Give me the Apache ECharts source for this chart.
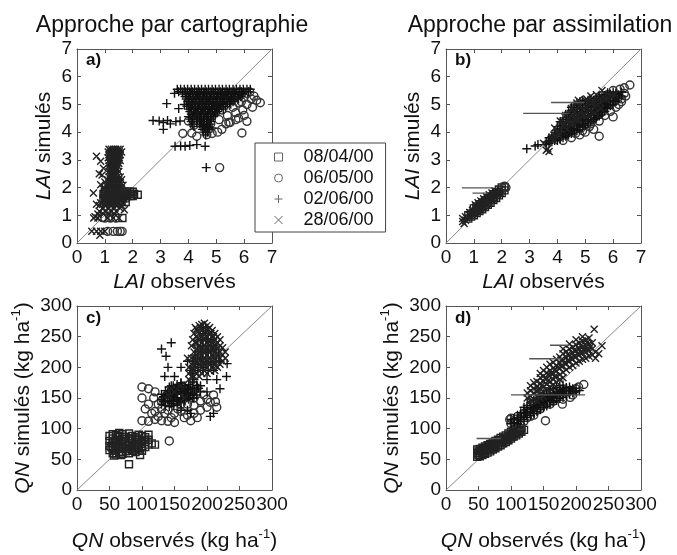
<!DOCTYPE html>
<html><head><meta charset="utf-8">
<script src="https://cdn.jsdelivr.net/npm/echarts@6/dist/echarts.min.js"></script>
<style>html,body{margin:0;padding:0;background:#fff}#c{width:677px;height:555px}</style>
</head><body><div id="c"></div>
<script>
// ---------------- DATA ----------------
const seriesNames = ['08/04/00', '06/05/00', '02/06/00', '28/06/00'];
const columnTitles = ['Approche par cartographie', 'Approche par assimilation'];
const panelLetters = ['a)', 'b)', 'c)', 'd)'];
const laiTicks = [0, 1, 2, 3, 4, 5, 6, 7];
const qnTicks = [0, 50, 100, 150, 200, 250, 300];

// Panel a) LAI, cartographie
const aSquares = [[1.0,1.85],[1.1,1.85],[1.2,1.85],[1.3,1.85],[1.4,1.85],[1.5,1.85],[1.6,1.85],[1.7,1.85],[1.8,1.85],[1.9,1.85],[2.0,1.85],
 [0.95,1.77],[1.05,1.77],[1.15,1.77],[1.25,1.77],[1.35,1.77],[1.45,1.77],[1.55,1.77],[1.65,1.77],[1.75,1.77],[1.85,1.77],[1.95,1.77],[2.05,1.77],[2.18,1.74],
 [1.0,1.69],[1.1,1.69],[1.2,1.69],[1.3,1.69],[1.4,1.69],[1.5,1.69],[1.6,1.69],[1.7,1.69],[1.8,1.69],[1.9,1.69],[2.0,1.69],
 [0.95,1.61],[1.05,1.61],[1.15,1.61],[1.25,1.61],[1.35,1.61],[1.45,1.61],[1.55,1.61],[1.65,1.61],[1.75,1.61],
 [1.0,1.53],[1.1,1.53],[1.2,1.53],[1.3,1.53],[1.4,1.53],[1.5,1.53],[1.6,1.53],[1.05,1.45],[1.2,1.45],[1.35,1.45],[1.5,1.45],[1.75,1.48],[1.63,0.9]];
const aCircles = [[3.8,3.95],[4.12,3.97],[4.3,3.85],[4.66,3.91],[4.85,3.95],[5.05,4.0],[5.2,4.1],[5.5,4.35],[5.92,3.97],[6.1,4.39],[6.0,4.6],[5.7,4.7],[6.1,5.0],[6.58,5.06],[6.35,5.3],[6.2,5.45],[6.0,5.25],[5.8,5.05],[5.6,4.9],[5.4,4.6],[5.3,5.2],[5.5,5.4],[5.1,4.45],[4.9,4.7],[4.6,4.3],[4.4,4.55],[4.2,4.25],[5.0,5.1],[5.85,5.45],[6.45,5.15],[5.95,4.8],[5.65,5.25],[5.12,2.72],[4.0,4.4],[4.7,5.0],[4.5,5.3],[6.3,4.9],[5.35,4.3],[5.8,4.5],[6.1,5.4],[5.2,4.8],[4.8,4.3],[5.45,4.35],[5.7,4.45],[6.25,5.2],[5.9,5.1],
 [1.1,0.42],[1.3,0.42],[1.45,0.42],[1.0,0.9],[1.2,0.9],[1.4,0.9],[0.9,0.92],[1.55,0.42],[1.62,0.42]];
const aPlus = [[3.22,5.03],[2.73,4.42],[2.95,4.4],[3.1,4.35],[3.25,4.42],[3.35,4.3],[3.55,4.38],[3.7,4.4],[3.1,4.1],[3.52,3.49],[3.72,3.5],[3.88,3.49],[4.05,3.52],[4.3,3.55],[4.6,3.49],[4.64,2.72],[3.5,5.4],[3.94,4.94],[3.65,4.85],[3.85,5.0],
 [3.6,5.55],[3.72,5.55],[3.85,5.55],[3.97,5.55],[4.1,5.55],[4.22,5.55],[4.35,5.55],[4.47,5.55],[4.6,5.55],[4.72,5.55],[4.85,5.55],[4.97,5.55],[5.1,5.55],[5.22,5.55],[5.35,5.55],[5.47,5.55],[5.6,5.55],[5.72,5.55],[5.85,5.55],[5.97,5.55],[6.1,5.55],[6.22,5.55],
 [3.65,5.46],[3.78,5.46],[3.9,5.46],[4.03,5.46],[4.15,5.46],[4.28,5.46],[4.4,5.46],[4.53,5.46],[4.65,5.46],[4.78,5.46],[4.9,5.46],[5.03,5.46],[5.15,5.46],[5.28,5.46],[5.4,5.46],[5.53,5.46],[5.65,5.46],[5.78,5.46],[5.9,5.46],[6.03,5.46],[6.15,5.46],
 [3.8,5.37],[3.95,5.37],[4.07,5.37],[4.2,5.37],[4.32,5.37],[4.45,5.37],[4.57,5.37],[4.7,5.37],[4.82,5.37],[4.95,5.37],[5.07,5.37],[5.2,5.37],[5.32,5.37],[5.45,5.37],[5.57,5.37],[5.7,5.37],[5.82,5.37],[5.95,5.37],
 [3.88,5.28],[4.0,5.28],[4.13,5.28],[4.25,5.28],[4.38,5.28],[4.5,5.28],[4.63,5.28],[4.75,5.28],[4.88,5.28],[5.0,5.28],[5.13,5.28],[5.25,5.28],[5.38,5.28],[5.5,5.28],[5.63,5.28],[5.75,5.28],[5.88,5.28],
 [3.92,5.19],[4.05,5.19],[4.17,5.19],[4.3,5.19],[4.42,5.19],[4.55,5.19],[4.67,5.19],[4.8,5.19],[4.92,5.19],[5.05,5.19],[5.17,5.19],[5.3,5.19],[5.42,5.19],[5.55,5.19],[5.67,5.19],[5.8,5.19],
 [3.98,5.1],[4.1,5.1],[4.23,5.1],[4.35,5.1],[4.48,5.1],[4.6,5.1],[4.73,5.1],[4.85,5.1],[4.98,5.1],[5.1,5.1],[5.23,5.1],[5.35,5.1],[5.48,5.1],[5.6,5.1],
 [4.02,5.01],[4.15,5.01],[4.27,5.01],[4.4,5.01],[4.52,5.01],[4.65,5.01],[4.77,5.01],[4.9,5.01],[5.02,5.01],[5.15,5.01],[5.27,5.01],[5.4,5.01],[5.52,5.01],
 [4.0,4.92],[4.08,4.92],[4.2,4.92],[4.33,4.92],[4.45,4.92],[4.58,4.92],[4.7,4.92],[4.83,4.92],[4.95,4.92],[5.08,4.92],[5.2,4.92],[5.33,4.92],
 [4.0,4.83],[4.12,4.83],[4.25,4.83],[4.37,4.83],[4.5,4.83],[4.62,4.83],[4.75,4.83],[4.87,4.83],[5.0,4.83],[5.12,4.83],[5.25,4.83],
 [4.05,4.74],[4.18,4.74],[4.3,4.74],[4.43,4.74],[4.55,4.74],[4.68,4.74],[4.8,4.74],[4.93,4.74],[5.05,4.74],
 [4.1,4.65],[4.22,4.65],[4.35,4.65],[4.47,4.65],[4.6,4.65],[4.72,4.65],[4.85,4.65],[4.97,4.65],
 [4.0,4.56],[4.15,4.56],[4.28,4.56],[4.4,4.56],[4.53,4.56],[4.65,4.56],[4.78,4.56],[4.9,4.56],
 [4.05,4.47],[4.2,4.47],[4.32,4.47],[4.45,4.47],[4.57,4.47],[4.7,4.47],[4.82,4.47],
 [4.1,4.38],[4.3,4.38],[4.43,4.38],[4.55,4.38],[4.68,4.38],[4.8,4.38],
 [4.15,4.29],[4.4,4.29],[4.52,4.29],[4.65,4.29],[4.77,4.29],[4.2,4.2],[4.45,4.2],[4.58,4.2],[4.7,4.2],[4.85,4.15],
 [4.5,4.1],[4.62,4.1],[4.75,4.1],[4.55,4.0],[4.68,4.0],[4.62,3.9]];
const aCross = [[1.15,3.38],[1.23,3.38],[1.31,3.38],[1.39,3.38],[1.47,3.38],[1.55,3.38],
 [1.12,3.28],[1.2,3.28],[1.28,3.28],[1.36,3.28],[1.44,3.28],[1.52,3.28],[1.6,3.28],
 [1.15,3.18],[1.23,3.18],[1.31,3.18],[1.39,3.18],[1.47,3.18],[1.55,3.18],
 [1.12,3.08],[1.2,3.08],[1.28,3.08],[1.36,3.08],[1.44,3.08],[1.52,3.08],
 [1.15,2.98],[1.23,2.98],[1.31,2.98],[1.39,2.98],[1.47,2.98],[1.55,2.98],
 [1.18,2.88],[1.26,2.88],[1.34,2.88],[1.42,2.88],[1.5,2.88],
 [1.15,2.78],[1.23,2.78],[1.31,2.78],[1.39,2.78],[1.47,2.78],
 [1.2,2.68],[1.28,2.68],[1.36,2.68],[1.44,2.68],
 [1.15,2.58],[1.23,2.58],[1.31,2.58],[1.39,2.58],[1.5,2.58],
 [1.2,2.48],[1.28,2.48],[1.36,2.48],[1.44,2.48],
 [1.15,2.38],[1.25,2.38],[1.35,2.38],[1.45,2.38],[1.55,2.38],
 [1.1,2.28],[1.2,2.28],[1.3,2.28],[1.4,2.28],[1.5,2.28],[1.6,2.28],
 [1.15,2.18],[1.25,2.18],[1.35,2.18],[1.45,2.18],[1.55,2.18],
 [1.05,2.08],[1.15,2.08],[1.25,2.08],[1.35,2.08],[1.45,2.08],[1.55,2.08],[1.65,2.08],
 [1.0,1.98],[1.1,1.98],[1.2,1.98],[1.3,1.98],[1.4,1.98],[1.5,1.98],[1.6,1.98],
 [0.85,1.45],[1.05,1.45],[1.25,1.45],[1.45,1.45],[1.65,1.45],
 [0.8,1.35],[1.0,1.35],[1.2,1.35],[1.4,1.35],[1.6,1.35],
 [0.95,1.25],[1.15,1.25],[1.35,1.25],[1.55,1.25],
 [0.8,1.15],[1.0,1.15],[1.2,1.15],[1.4,1.15],
 [0.75,1.05],[0.95,1.05],[1.15,1.05],[1.35,1.05],
 [0.7,3.13],[0.85,2.95],[0.8,2.5],[0.9,2.45],[0.95,2.7],[1.0,2.2],[0.85,2.1],[0.95,1.95],[0.59,1.8],[0.7,1.4],[0.65,0.95],
 [0.6,0.9],[0.75,0.9],[1.1,0.9],[1.3,0.9],[1.5,0.9],[0.53,0.42],[0.7,0.42],[0.85,0.42],[1.0,0.42],[0.82,0.28],[1.7,1.2]];

// Panel b) LAI, assimilation
const bSquares = [[0.8,0.88],[0.8,1.0],[0.9,0.95],[0.9,1.07],[1.0,1.0],[1.0,1.12],[1.0,1.25],[1.1,1.08],[1.1,1.2],[1.1,1.32],[1.2,1.15],[1.2,1.27],[1.2,1.4],[1.3,1.22],[1.3,1.34],[1.3,1.46],[1.4,1.3],[1.4,1.42],[1.4,1.54],[1.5,1.38],[1.5,1.5],[1.5,1.62],[1.6,1.45],[1.6,1.57],[1.6,1.68],[1.7,1.55],[1.7,1.66],[1.7,1.76],[1.8,1.62],[1.8,1.74],[1.8,1.84],[1.9,1.72],[1.9,1.83],[1.9,1.93],[2.0,1.8],[2.0,1.9],[2.0,2.0],[2.1,1.9],[2.1,2.02]];
const bCircles = [[4.2,3.7],[4.5,3.8],[4.8,3.9],[5.0,4.0],[5.3,4.1],[5.5,3.85],[5.2,4.3],[5.5,4.4],[5.7,4.6],[5.9,4.75],[6.0,4.55],[6.1,4.9],[6.2,5.0],[6.3,5.2],[6.1,5.3],[6.4,5.4],[6.6,5.7],[6.0,5.5],[5.8,5.35],[5.6,5.2],[5.4,5.0],[5.2,4.8],[5.0,4.6],[4.8,4.4],[4.6,4.2],[4.4,4.0],[5.85,5.0],[5.65,4.85],[5.45,4.65],[5.25,4.5],[5.05,4.3],[4.85,4.15],[4.65,3.95],[6.3,5.1],[6.25,5.55],[5.95,5.2],[5.75,5.05],[5.55,4.7],[5.35,4.55],[5.15,4.2],[4.9,4.05],[2.1,2.05],[2.15,2.0],[6.4,5.6],[6.45,5.3]];
const bPlus = [[2.9,3.4],[3.2,3.5],[3.3,3.55],[3.6,3.55],[3.6,3.65],[3.7,3.6],[3.7,3.7],[3.7,3.8],[3.8,3.65],[3.8,3.75],[3.8,3.85],[3.9,3.7],[3.9,3.8],[3.9,3.9],[3.9,4.0],
 [4.0,3.7],[4.0,3.82],[4.0,3.95],[4.0,4.08],[4.0,4.2],[4.1,3.75],[4.1,3.88],[4.1,4.0],[4.1,4.12],[4.1,4.25],[4.1,4.38],
 [4.2,3.8],[4.2,3.93],[4.2,4.06],[4.2,4.2],[4.2,4.33],[4.2,4.46],[4.3,3.85],[4.3,3.98],[4.3,4.1],[4.3,4.24],[4.3,4.38],[4.3,4.52],[4.3,4.65],
 [4.4,3.9],[4.4,4.03],[4.4,4.16],[4.4,4.3],[4.4,4.44],[4.4,4.58],[4.4,4.72],[4.5,3.95],[4.5,4.08],[4.5,4.22],[4.5,4.36],[4.5,4.5],[4.5,4.64],[4.5,4.78],[4.5,4.9],
 [4.6,4.0],[4.6,4.14],[4.6,4.28],[4.6,4.42],[4.6,4.56],[4.6,4.7],[4.6,4.84],[4.6,4.98],[4.7,4.05],[4.7,4.2],[4.7,4.34],[4.7,4.48],[4.7,4.62],[4.7,4.76],[4.7,4.9],[4.7,5.05],
 [4.8,4.1],[4.8,4.25],[4.8,4.4],[4.8,4.54],[4.8,4.68],[4.8,4.82],[4.8,4.96],[4.8,5.1],[4.9,4.18],[4.9,4.32],[4.9,4.46],[4.9,4.6],[4.9,4.74],[4.9,4.88],[4.9,5.02],[4.9,5.15],
 [5.0,4.25],[5.0,4.4],[5.0,4.54],[5.0,4.68],[5.0,4.82],[5.0,4.96],[5.0,5.1],[5.1,4.3],[5.1,4.45],[5.1,4.6],[5.1,4.74],[5.1,4.88],[5.1,5.02],[5.1,5.15],
 [5.2,4.38],[5.2,4.52],[5.2,4.66],[5.2,4.8],[5.2,4.94],[5.2,5.08],[5.2,5.2],[5.3,4.45],[5.3,4.6],[5.3,4.74],[5.3,4.88],[5.3,5.02],[5.3,5.15],
 [5.4,4.5],[5.4,4.65],[5.4,4.8],[5.4,4.94],[5.4,5.08],[5.4,5.22],[5.5,4.58],[5.5,4.72],[5.5,4.86],[5.5,5.0],[5.5,5.14],[5.5,5.28],
 [5.6,4.65],[5.6,4.8],[5.6,4.94],[5.6,5.08],[5.6,5.22],[5.6,5.35],[5.7,4.75],[5.7,4.9],[5.7,5.04],[5.7,5.18],[5.7,5.32],
 [5.8,4.85],[5.8,5.0],[5.8,5.14],[5.8,5.28],[5.8,5.42],[5.9,4.95],[5.9,5.1],[5.9,5.24],[5.9,5.38],[6.0,5.0],[6.0,5.15],[6.0,5.3],[6.0,5.45],[6.1,5.1],[6.1,5.25],[6.1,5.4],[6.2,5.2],[6.2,5.35],[6.3,5.3],[6.3,5.45]];
const bCross = [[0.6,0.78],[0.6,0.88],[0.65,0.7],[0.7,0.82],[0.7,0.95],[0.75,0.9],[0.85,1.0],[0.85,1.1],[0.95,1.05],[0.95,1.18],[1.05,1.12],[1.05,1.28],[1.05,1.38],[1.15,1.18],[1.15,1.3],[1.15,1.45],[1.25,1.25],[1.25,1.4],[1.25,1.52],[1.35,1.32],[1.35,1.46],[1.35,1.6],[1.45,1.4],[1.45,1.55],[1.45,1.68],[1.55,1.48],[1.55,1.62],[1.55,1.74],[1.65,1.56],[1.65,1.7],[1.65,1.8],[1.75,1.64],[1.75,1.78],[1.75,1.88],[1.85,1.72],[1.85,1.85],[1.95,1.8],[1.95,1.92],
 [3.6,3.35],[3.7,3.3],[3.65,3.4],[3.5,3.6],[3.8,3.8],[4.0,3.95],[4.2,4.25],[4.4,4.5],[4.6,4.7],[4.8,4.95],[5.0,5.15],[5.2,5.3],[4.3,4.6],[4.5,4.85],[4.7,5.05],[3.9,4.15],[4.1,4.4],[5.4,5.35],[5.6,5.5],[5.3,5.1],[4.75,5.15],[5.05,5.2],
 [4.15,4.1],[4.25,4.3],[4.35,4.45],[4.45,4.3],[4.55,4.6],[4.65,4.45],[4.75,4.6],[4.85,4.75],[4.95,4.65],[5.05,4.9],[5.15,4.8],[5.25,5.05],[5.35,4.9],[5.45,5.15],[5.55,5.05],[5.65,5.25],[5.75,5.2],[5.85,5.35],[5.95,5.3],[6.05,5.35],[4.05,3.9],[3.95,3.85],[3.85,3.7],[4.35,4.1],[4.55,4.3],[4.75,4.4],[4.95,4.6],[5.15,4.6],[5.35,4.7],[5.55,4.85]];
const bSegments = [[[3.77,5.07],[4.95,5.07]],[[2.77,4.68],[4.4,4.68]],[[0.57,1.99],[1.7,1.99]],[[0.95,1.8],[1.5,1.8]]];

// Panel c) QN, cartographie
const cSquares = [[50,65],[50,72],[50,80],[50,88],[55,60],[55,68],[55,76],[55,84],[55,91],[60,58],[60,66],[60,74],[60,82],[60,90],[65,62],[65,70],[65,78],[65,86],[65,93],[70,59],[70,67],[70,75],[70,83],[70,91],[75,63],[75,71],[75,79],[75,87],[80,60],[80,68],[80,76],[80,84],[80,92],[85,64],[85,72],[85,80],[85,88],[90,62],[90,70],[90,78],[90,86],[95,66],[95,74],[95,82],[95,90],[100,64],[100,72],[100,80],[100,88],[105,70],[105,78],[105,86],[110,74],[110,82],[115,76],[120,74],[80,42],[97,57],[57,56],[68,57],[110,90],
 [53,70],[58,78],[63,74],[68,80],[73,68],[78,72],[83,68],[88,74],[93,70],[98,78],[103,82],[63,88],[73,86],[83,84],[93,84],[58,64],[68,62],[78,64],[88,66]];
const cCircles = [[100,168],[110,165],[120,160],[100,150],[110,140],[100,113],[110,112],[120,115],[130,113],[140,112],[150,110],[175,113],[120,128],[130,132],[140,130],[150,125],[160,128],[170,122],[180,125],[185,118],[130,145],[140,150],[150,145],[160,140],[170,140],[180,138],[190,145],[200,148],[205,143],[213,144],[190,130],[160,155],[170,160],[142,80],[125,140],[115,125],[195,155],[210,155],[215,135],[105,132],[118,150],[125,120],[135,125],[145,118],[165,118],[155,132],[180,150],[200,135]];
const cPlus = [[137,218],[130,230],[145,240],[140,200],[150,185],[135,185],[145,170],[155,160],[165,150],[150,150],[140,160],[160,175],[170,165],[180,180],[175,195],[185,170],[200,180],[215,180],[230,185],[231,206],[220,210],[195,200],[210,195],[190,215],[170,210],[160,200],[180,150],[200,160],[220,165],[170,130],[175,125],[210,125],[205,120],[155,145],[160,130],
 [130,140],[130,148],[130,156],[136,138],[136,146],[136,154],[136,162],[142,136],[142,144],[142,152],[142,160],[142,168],[148,138],[148,146],[148,154],[148,162],[148,170],[154,140],[154,148],[154,156],[154,164],[154,172],[160,142],[160,150],[160,158],[160,166],[160,174],[166,146],[166,154],[166,162],[166,170],[172,148],[172,156],[172,164],[172,172],[178,150],[178,158],[178,166],[178,176],[184,155],[184,163],[184,171],[190,160],[190,170],
 [133,144],[139,150],[145,141],[151,158],[157,144],[163,160],[169,150],[175,168],[181,160],[139,158],[151,166],[163,170],[145,162],[157,168],[133,152],[169,158],[175,154],[187,166],
 [186,195],[186,215],[186,235],[190,205],[190,225],[190,245],[194,195],[194,215],[194,235],[194,255],[198,205],[198,225],[198,245],[198,265],[202,195],[202,215],[202,235],[202,255],[206,205],[206,225],[206,245],[210,215],[210,235],[214,210],[214,230],[218,220],[182,200],[182,220],[178,190],[178,210]];
const cCross = [[172,180],[172,190],[172,200],[176,185],[176,195],[176,205],[176,215],[176,235],[180,185],[180,195],[180,205],[180,215],[180,225],[180,255],[184,190],[184,200],[184,210],[184,220],[184,230],[184,240],[184,250],[184,262],
 [188,185],[188,195],[188,205],[188,215],[188,225],[188,235],[188,245],[188,255],[188,268],[192,190],[192,200],[192,210],[192,220],[192,230],[192,240],[192,250],[192,260],[192,270],
 [196,195],[196,205],[196,215],[196,225],[196,235],[196,245],[196,255],[196,265],[196,272],[200,190],[200,200],[200,210],[200,220],[200,230],[200,240],[200,250],[200,260],[200,268],
 [204,195],[204,205],[204,215],[204,225],[204,235],[204,245],[204,255],[204,265],[208,200],[208,210],[208,220],[208,230],[208,240],[208,250],[208,260],
 [212,195],[212,205],[212,215],[212,225],[212,235],[212,245],[212,255],[216,200],[216,210],[216,220],[216,230],[216,240],[216,250],[220,205],[220,215],[220,225],[220,235],[220,245],[224,210],[224,220],[224,232],[228,215],[228,225],
 [170,215],[160,170],[150,160],[140,155],[165,150],[145,165],
 [182,265],[186,258],[190,265],[194,262],[198,258],[202,262],[206,255],[210,250],[186,248],[190,252],[194,246],[198,250],[202,244],[206,238],[210,242],[214,238],[186,228],[190,232],[194,226],[198,232],[202,226],[206,232],[210,228],[214,222],[186,208],[190,212],[194,206],[198,212],[202,206],[206,212],[210,206],[214,202],[182,240],[178,245],[182,210],[178,198]];

// Panel d) QN, assimilation
const dSquares = [[48,54],[48,60],[48,66],[52,55],[52,61],[52,67],[56,57],[56,63],[56,69],[60,59],[60,65],[60,71],[64,61],[64,67],[64,73],[68,63],[68,69],[68,75],[72,66],[72,72],[72,78],[76,68],[76,74],[76,80],[80,71],[80,77],[80,82],[84,73],[84,79],[84,85],[88,76],[88,82],[88,87],[92,78],[92,84],[92,89],[96,81],[96,87],[96,92],[100,84],[100,90],[100,95],[104,87],[104,93],[104,98],[108,89],[108,95],[108,100],[112,92],[112,98],[116,95],[116,101],[120,98],[50,57],[54,64],[58,60],[62,68],[66,66],[70,72],[74,70],
 [50,63],[58,66],[66,72],[74,76],[82,80],[90,83],[98,88],[106,92],[114,97],[86,76],[94,81],[102,87],[110,96]];
const dCircles = [[100,117],[105,110],[110,120],[120,112],[153,113],[212,172],[204,168],[191,151],[179,140],[120,125],[125,118],[165,145],[175,155],[185,160],[195,162],[140,130],[150,140],[160,150],[170,150],[130,128],[115,105],[200,165],[130,120],[145,132],[155,142],[100,108],[98,115],[135,122],[160,140],[180,148],[195,155]];
const dPlus = [[100,108],[100,115],[105,110],[105,117],[110,108],[110,115],[110,122],[115,112],[115,119],[115,126],[120,115],[120,122],[120,129],[120,135],[125,118],[125,125],[125,132],[125,138],[130,121],[130,128],[130,135],[130,142],[135,125],[135,132],[135,139],[135,146],
 [140,128],[140,135],[140,142],[140,150],[145,131],[145,138],[145,146],[145,153],[150,134],[150,141],[150,149],[150,157],[155,137],[155,145],[155,152],[155,160],[160,140],[160,148],[160,155],[160,163],
 [165,143],[165,151],[165,158],[165,165],[170,146],[170,153],[170,160],[170,167],[175,149],[175,156],[175,163],[175,170],[180,151],[180,158],[180,165],[180,171],[185,154],[185,160],[185,167],[190,156],[190,162],[190,168],[195,158],[195,165],[200,160],[200,166],[205,162],
 [132,131],[142,138],[152,145],[162,152],[172,157],[182,162],[192,163],[122,125],[112,118],[137,136],[147,143],[157,150],[167,155],[177,160]];
const dCross = [[125,150],[125,158],[130,153],[130,162],[130,170],[135,158],[135,166],[135,175],[140,160],[140,168],[140,177],[145,165],[145,174],[145,183],[145,190],[150,168],[150,177],[150,186],[150,195],[155,173],[155,182],[155,191],[155,200],
 [160,176],[160,186],[160,195],[160,205],[165,180],[165,190],[165,199],[165,208],[170,185],[170,194],[170,203],[170,213],[175,188],[175,198],[175,207],[175,217],[180,192],[180,202],[180,212],[180,222],[180,230],
 [185,196],[185,206],[185,216],[185,226],[190,200],[190,210],[190,220],[190,230],[190,238],[195,203],[195,213],[195,223],[195,233],[200,207],[200,217],[200,227],[200,237],[200,245],
 [205,210],[205,220],[205,230],[205,240],[210,213],[210,223],[210,233],[210,243],[210,250],[215,215],[215,225],[215,235],[215,245],[220,218],[220,228],[220,238],[220,248],[225,220],[225,230],[225,240],[230,215],[230,225],[235,222],[228,262],[240,235],
 [142,163],[147,170],[152,182],[157,188],[162,190],[167,196],[172,200],[177,212],[182,207],[187,221],[192,215],[197,228],[202,222],[207,235],[212,228],[217,240],[222,233],[187,211],[177,202],[167,185],[157,178],[197,218],[207,225],[217,230],
 [135,148],[140,152],[145,157],[150,160],[155,165],[160,168],[165,172],[170,176],[175,180],[180,183],[140,145],[150,152],[160,160],[128,143],[132,146],[145,150]];
const dSegments = [[[160,236],[190,236]],[[128,214],[178,214]],[[100,155],[214,155]],[[47,84],[85,84]]];

// ---------------- CHART ----------------
const FONT = '"Liberation Sans", Arial, sans-serif';
const panels = [
  {data: [aSquares, aCircles, aPlus, aCross], ticks: laiTicks, segs: []},
  {data: [bSquares, bCircles, bPlus, bCross], ticks: laiTicks, segs: bSegments},
  {data: [cSquares, cCircles, cPlus, cCross], ticks: qnTicks, segs: []},
  {data: [dSquares, dCircles, dPlus, dCross], ticks: qnTicks, segs: dSegments}
];
const grids = [
  {left: 77, top: 49, width: 195, height: 194},
  {left: 446, top: 49, width: 195, height: 194},
  {left: 77, top: 306, width: 195, height: 196},
  {left: 446, top: 306, width: 195, height: 196}
];
const SYM = [
  {symbol: 'rect', size: 7, color: '#222'},
  {symbol: 'circle', size: 8, color: '#333'},
  {symbol: 'path://M5,0L5,10M0,5L10,5', size: 9, color: '#111'},
  {symbol: 'path://M0,0L10,10M10,0L0,10', size: 7, color: '#222'}
];
const nameStyle = {
  fontSize: 21, fontFamily: FONT, color: '#111', lineHeight: 26,
  rich: {
    i: {fontStyle: 'italic', fontSize: 21, fontFamily: FONT, color: '#111', lineHeight: 26},
    s: {fontSize: 13, fontFamily: FONT, color: '#111', lineHeight: 13, verticalAlign: 'top'}
  }
};
const xNames = ['{i|LAI} observés', '{i|LAI} observés', '{i|QN} observés (kg ha{s|-1})', '{i|QN} observés (kg ha{s|-1})'];
const yNames = ['{i|LAI} simulés', '{i|LAI} simulés', '{i|QN} simulés (kg ha{s|-1})', '{i|QN} simulés (kg ha{s|-1})'];
const xGaps = [26, 26, 38, 38];
const yGaps = [18, 18, 28, 28];

const xAxes = [], yAxes = [], series = [];
function axisBase(p, pos, showLabel) {
  const t = panels[p].ticks;
  return {
    type: 'value', gridIndex: p, position: pos,
    min: t[0], max: t[t.length - 1], interval: t[1] - t[0],
    axisLine: {show: true, onZero: false, lineStyle: {color: '#555', width: 1}},
    axisTick: {show: true, inside: true, length: 4, lineStyle: {color: '#555', width: 1}},
    axisLabel: {show: showLabel, margin: 5, fontSize: 19, fontFamily: FONT, color: '#111', showMinLabel: true, showMaxLabel: true},
    splitLine: {show: false}
  };
}
panels.forEach((pn, p) => {
  const xb = axisBase(p, 'bottom', true);
  Object.assign(xb, {name: xNames[p], nameLocation: 'middle', nameGap: xGaps[p], nameTextStyle: nameStyle});
  const yl = axisBase(p, 'left', true);
  Object.assign(yl, {name: yNames[p], nameLocation: 'middle', nameRotate: 90, nameGap: yGaps[p], nameTextStyle: nameStyle});
  xAxes.push(xb, axisBase(p, 'top', false));
  yAxes.push(yl, axisBase(p, 'right', false));
  const ax = 2 * p;
  const t = pn.ticks;
  series.push({
    type: 'line', xAxisIndex: ax, yAxisIndex: ax, silent: true, z: 1,
    data: [[t[0], t[0]], [t[t.length - 1], t[t.length - 1]]],
    symbol: 'none', lineStyle: {color: '#888', width: 1}
  });
  pn.data.forEach((d, k) => {
    series.push({
      type: 'scatter', name: seriesNames[k], xAxisIndex: ax, yAxisIndex: ax, z: 2 + k,
      data: d, symbol: SYM[k].symbol, symbolSize: SYM[k].size, silent: true, large: false,
      itemStyle: {color: 'rgba(0,0,0,0)', borderColor: SYM[k].color, borderWidth: 1.4, opacity: 1}
    });
  });
  pn.segs.forEach(sg => {
    series.push({
      type: 'line', xAxisIndex: ax, yAxisIndex: ax, silent: true, z: 6,
      data: sg, symbol: 'none', lineStyle: {color: '#555', width: 1.3}
    });
  });
});

const graphic = [
  {type: 'text', x: 172, y: 26, style: {text: columnTitles[0], font: '23px ' + FONT, fill: '#111', textAlign: 'center', textVerticalAlign: 'middle'}},
  {type: 'text', x: 540, y: 26, style: {text: columnTitles[1], font: '23px ' + FONT, fill: '#111', textAlign: 'center', textVerticalAlign: 'middle'}}
];
const letterPos = [[86, 60], [455, 60], [86, 318], [455, 318]];
panelLetters.forEach((l, i) => graphic.push({
  type: 'text', x: letterPos[i][0], y: letterPos[i][1], z: 10,
  style: {text: l, font: 'bold 17px ' + FONT, fill: '#111', textAlign: 'left', textVerticalAlign: 'middle'}
}));

const chart = echarts.init(document.getElementById('c'), null, {renderer: 'canvas'});
chart.setOption({
  animation: false,
  backgroundColor: '#fff',
  grid: grids,
  xAxis: xAxes,
  yAxis: yAxes,
  legend: {
    orient: 'vertical', left: 255, top: 143, padding: [5, 12, 3, 19],
    itemWidth: 8, itemHeight: 8, itemGap: 3,
    borderColor: '#444', borderWidth: 1, backgroundColor: '#fff', borderRadius: 0,
    selectedMode: false,
    textStyle: {fontSize: 18, fontFamily: FONT, color: '#111', lineHeight: 18, padding: [0, 0, 0, 16]},
    data: seriesNames.map((n, k) => ({name: n, icon: SYM[k].symbol, itemStyle: {color: 'rgba(0,0,0,0)', borderColor: '#666', borderWidth: 1}}))
  },
  graphic: graphic,
  series: series
});
</script></body></html>
